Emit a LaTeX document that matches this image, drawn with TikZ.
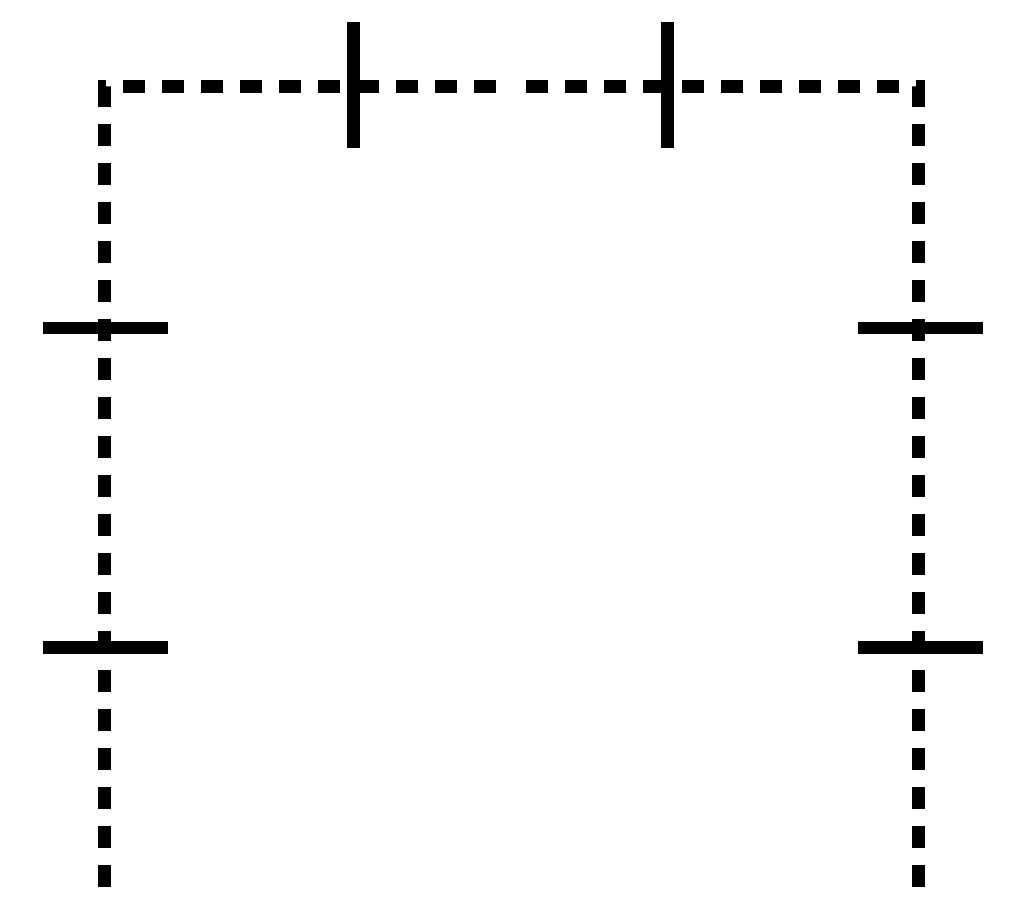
\documentclass[tikz,border=0pt]{standalone}
\begin{document}
\begin{tikzpicture}[x=0.02cm, y=-0.02cm]
\useasboundingbox (0,0) rectangle (1024,912);
\tikzset{bord/.style={line width=0.26cm, dash pattern=on 0.44cm off 0.34cm},
  marque/.style={line width=0.26cm}}
\draw[bord] (104, 887) -- (104, 87) -- (511, 87);
\draw[bord] (918, 887) -- (918, 87) -- (511, 87);

\draw[marque] (353, 22) -- (353, 148);
\draw[marque] (667, 22) -- (667, 148);
\draw[marque] (43, 328) -- (168, 328);
\draw[marque] (43, 647) -- (168, 647);
\draw[marque] (858, 328) -- (983, 328);
\draw[marque] (858, 647) -- (983, 647);
\end{tikzpicture}
\end{document}
